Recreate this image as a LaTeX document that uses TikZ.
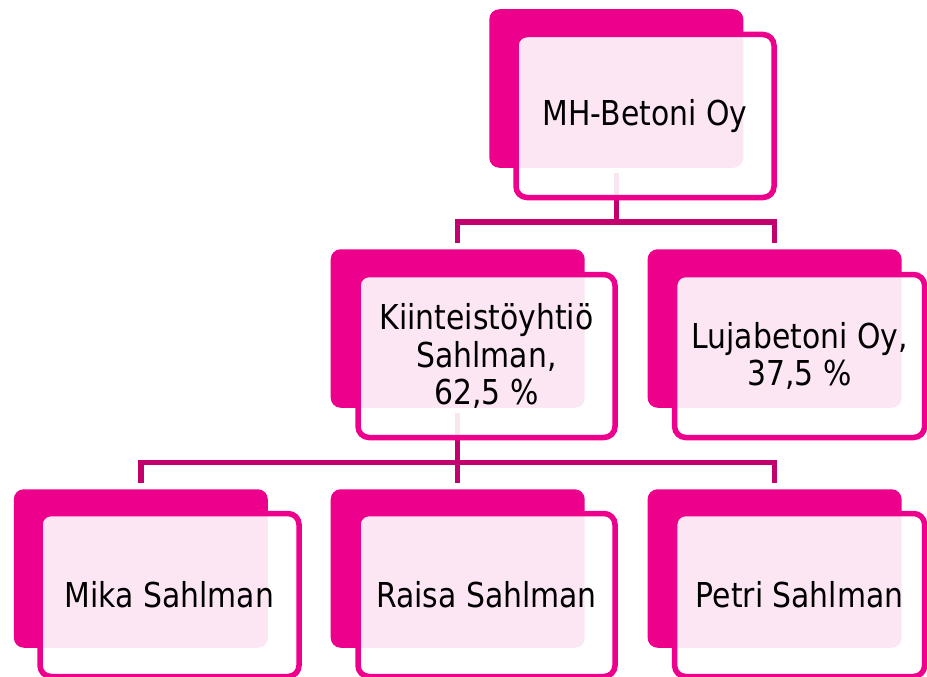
\documentclass[tikz,border=0pt]{standalone}
\usepackage{fontspec}
\setmainfont{DejaVu Sans}[FakeStretch=0.87]
\definecolor{mag}{HTML}{EC008C}
\definecolor{connc}{HTML}{C2006E}
\begin{document}
\begin{tikzpicture}[x=1pt,y=-1pt,
  backbox/.style={fill=mag, rounded corners=10pt, minimum width=254pt, minimum height=158.5pt, inner sep=0pt, draw=none},
  frontbox/.style={draw=mag, line width=5.5pt, fill=white, fill opacity=0.9, text opacity=1, rounded corners=11pt, minimum height=163pt, inner sep=0pt, align=center, font=\fontsize{34.3}{37.3}\selectfont},
  connline/.style={draw=connc, line width=5.5pt}]
\path[use as bounding box] (0,0) rectangle (927,677);
% back boxes
\node[backbox] (mhb) at (616.3,88.5) {};
\node[backbox] (kb) at (457.7,328.5) {};
\node[backbox] (lb) at (774.6,328.5) {};
\node[backbox] (mb) at (140.8,568.5) {};
\node[backbox] (rb) at (457.7,568.5) {};
\node[backbox] (pb) at (774.6,568.5) {};
% connectors
\coordinate (j1) at ([yshift=-54pt]mhb.south);
\draw[connline] ([yshift=-5pt]mhb.south) -- (j1);
\draw[connline] ([yshift=6pt]kb.north) |- (j1) -| ([yshift=6pt]lb.north);
\coordinate (j2) at ([yshift=-54.5pt]kb.south);
\draw[connline] ([yshift=-5pt]kb.south) -- ([yshift=6pt]rb.north);
\draw[connline] ([yshift=6pt]mb.north) |- (j2) -| ([yshift=6pt]pb.north);
% front boxes
\node[frontbox, minimum width=258pt] (mh) at (645,116) {MH-Betoni Oy};
\node[frontbox, minimum width=257pt] (k) at (486.5,356) {Kiinteistöyhtiö\\Sahlman,\\62,5 \%};
\node[frontbox, minimum width=250pt] (l) at (799.6,356) {Lujabetoni Oy,\\37,5 \%};
\node[frontbox, minimum width=259pt] (m) at (169.5,595) {Mika Sahlman};
\node[frontbox, minimum width=257pt] (r) at (486.5,595) {Raisa Sahlman};
\node[frontbox, minimum width=250pt] (p) at (799.6,595) {Petri Sahlman};
\end{tikzpicture}
\end{document}
